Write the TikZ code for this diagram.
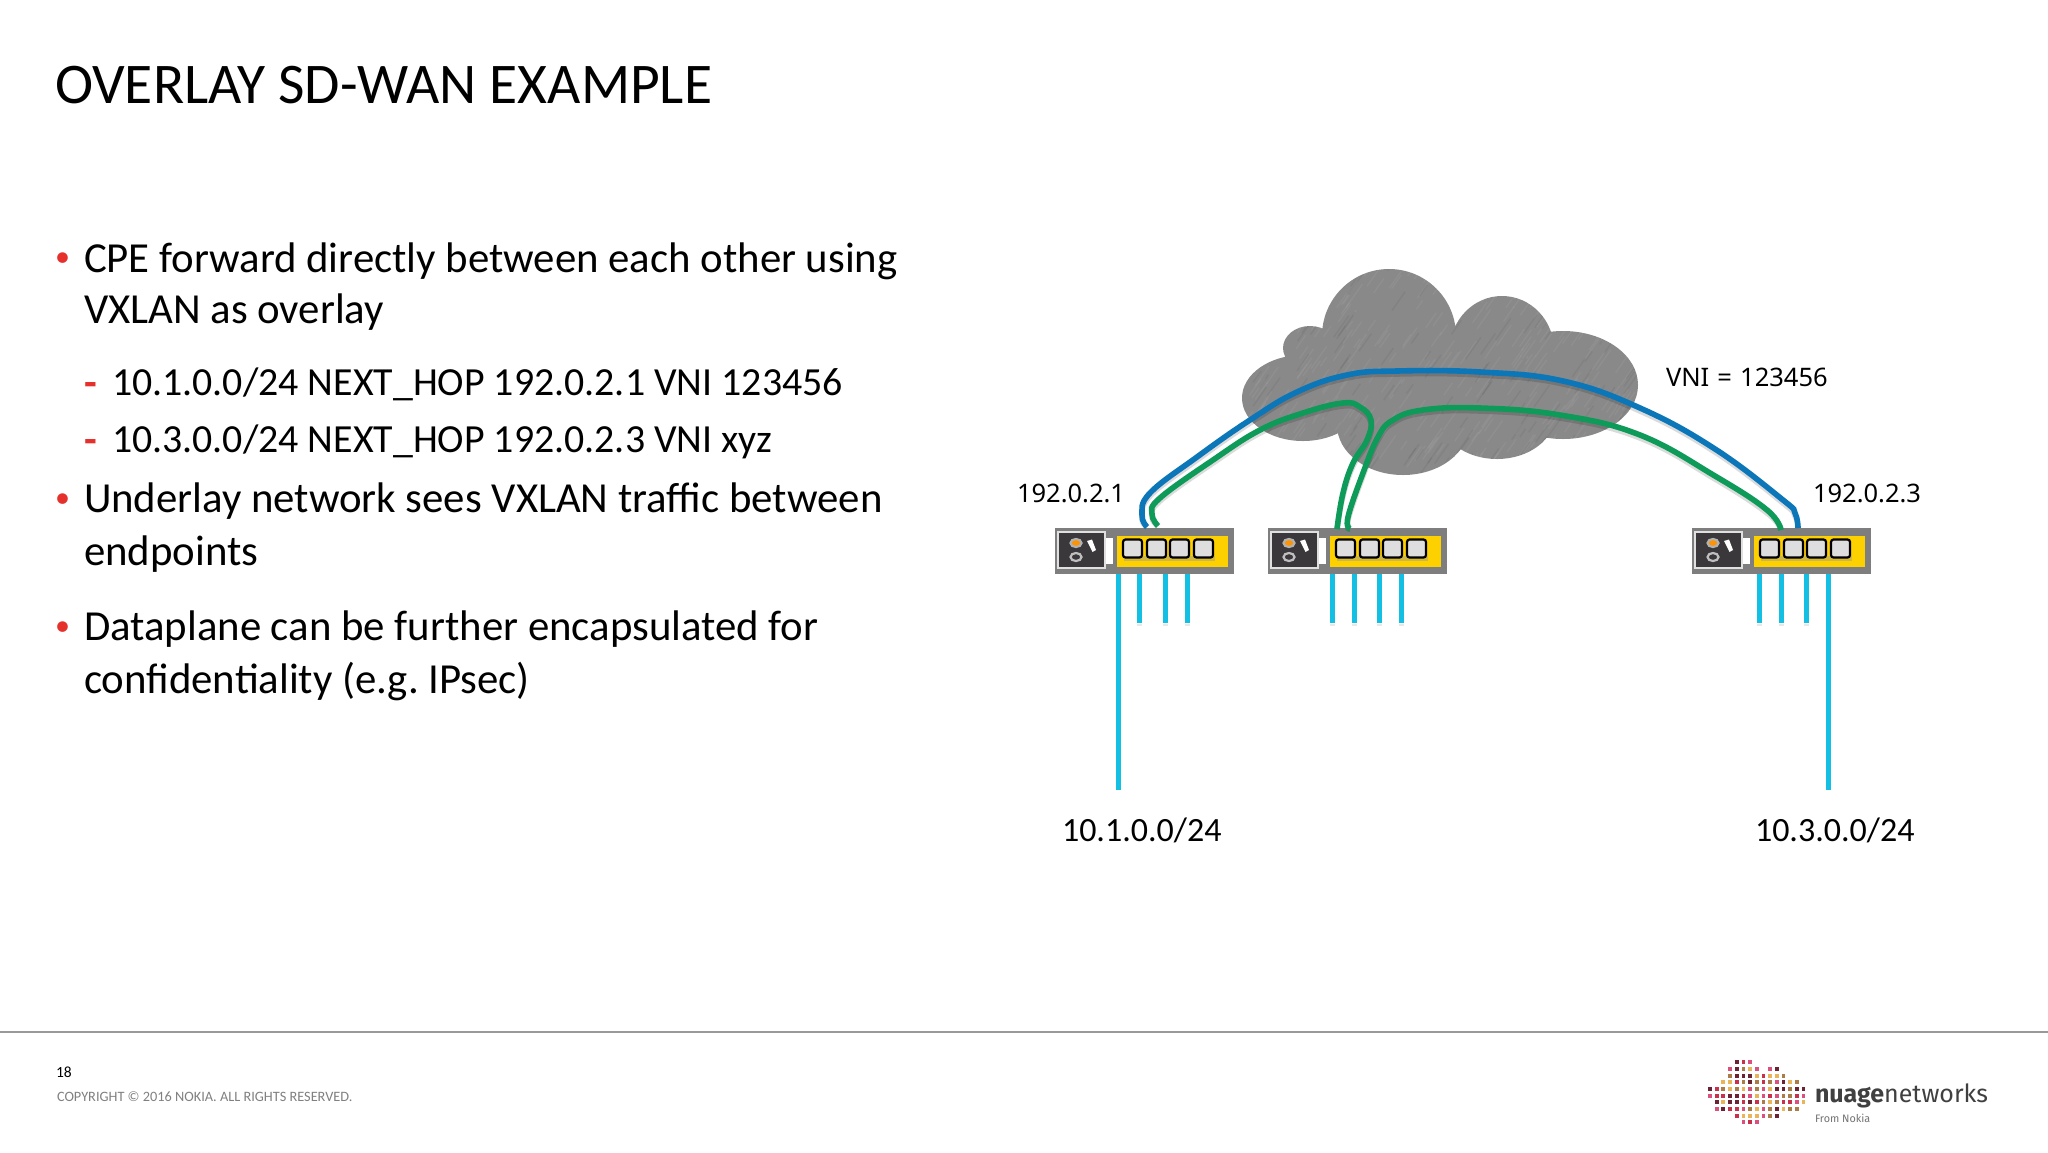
\documentclass[tikz,border=0pt]{standalone}
\usepackage{fontspec}
\setmainfont{Carlito}
\newfontfamily\labelfont{Noto Sans}
\newfontfamily\logofont{Fira Sans}
\definecolor{cloudgray}{HTML}{8A898A}
\definecolor{boxgray}{HTML}{7E7E7E}
\definecolor{panel}{HTML}{3A383A}
\definecolor{amber}{HTML}{FDD000}
\definecolor{vniblue}{HTML}{0B76B8}
\definecolor{vnigreen}{HTML}{0E9A58}
\definecolor{lan}{HTML}{14BFE4}
\definecolor{bullet}{HTML}{E5302C}
\definecolor{dotA}{HTML}{D9517C}
\definecolor{dotB}{HTML}{E9B45A}
\definecolor{dotC}{HTML}{6B2232}
\definecolor{dotD}{HTML}{AC7C48}
\definecolor{dotE}{HTML}{C9304C}
\tikzset{
  txt/.style={anchor=base west,inner sep=0pt,outer sep=0pt,text=black},
  titletxt/.style={txt,font=\fontsize{57.5}{66}\selectfont},
  bodytxt/.style={txt,font=\fontsize{42.8}{50}\selectfont},
  subtxt/.style={txt,font=\fontsize{39.85}{48}\selectfont},
  marktxt/.style={txt,text=bullet,font=\fontsize{30}{36}\selectfont},
  dashtxt/.style={txt,text=bullet,font=\fontsize{41.5}{50}\selectfont},
  addrtxt/.style={txt,font=\labelfont\fontsize{25.5}{28}\selectfont},
  nettxt/.style={txt,font=\fontsize{34}{42}\selectfont},
  lanline/.style={draw=lan,line width=5pt},
  lanshadow/.style={draw=black!25,line width=5pt,opacity=.35},
  vniline/.style={line width=5.6pt,smooth,tension=.7},
  vnishadow/.style={vniline,black,opacity=.14,yshift=-3pt},
  portbox/.style={draw=black,line width=2.2pt,rounded corners=2.5pt,fill=black!13},
}
\newcommand{\cpe}[2]{%
  \begin{scope}[shift={(#1,0)}]
    \fill[boxgray] (1055,528) rectangle (1234,574);
    \fill[panel] (1058,532) rectangle (1105,568);
    \draw[black!12,line width=2pt] (1058,532) rectangle (1105,568);
    \fill[white] (1106,538) rectangle (1113,564);
    \fill[amber] (1117,536) rectangle (1228,567);
    \draw[black!30,line width=2.2pt,fill=orange!85!yellow] (1076,543) ellipse [x radius=5.5,y radius=4];
    \draw[black!25,line width=2.2pt] (1076,557) ellipse [x radius=5.5,y radius=4];
    \fill[white] (1087,541) -- (1092,539.5) -- (1096,550) -- (1092.5,552) -- cycle;
    \fill[black!40,opacity=.45] (1124,556) rectangle (1215,561);
    \foreach \px in {1123,1147,1170,1194}
      \draw[portbox] (\px,539.5) rectangle ++(19,18);
    \foreach \lx in {#2} {
      \draw[lanshadow] (\lx,624) -- (\lx,626);
      \draw[lanline] (\lx,574) -- (\lx,623);
    }
  \end{scope}}
\begin{document}
\frenchspacing
\begin{tikzpicture}[x=1pt,y=-1pt]
\useasboundingbox (0,0) rectangle (2048,1152);
\fill[white] (0,0) rectangle (2048,1152);

% slide text
\node[titletxt] (title) at (55,103) {OVERLAY SD-WAN EXAMPLE};
\node[marktxt] (b1) at (55,266) {•};
\node[bodytxt] (t1) at (84,272) {CPE forward directly between each other using};
\node[bodytxt] (t1b) at (84,323) {VXLAN as overlay};
\node[dashtxt] (d1) at (84,396) {\textbf{-}};
\node[subtxt] (s1) at (112,395) {10.1.0.0/24 NEXT\_HOP 192.0.2.1 VNI 123456};
\node[dashtxt] (d2) at (84,453) {\textbf{-}};
\node[subtxt] (s2) at (112,452) {10.3.0.0/24 NEXT\_HOP 192.0.2.3 VNI xyz};
\node[marktxt] (b2) at (55,507) {•};
\node[bodytxt] (t2) at (84,512) {Underlay network sees VXLAN traffic between};
\node[bodytxt] (t2b) at (84,565) {endpoints};
\node[marktxt] (b3) at (55,635) {•};
\node[bodytxt] (t3) at (84,640) {Dataplane can be further encapsulated for};
\node[bodytxt] (t3b) at (84,693) {confidentiality (e.g. IPsec)};

% cloud
\newcommand{\cloudshape}{
  (1389,336) ellipse [x radius=67,y radius=67]
  (1502,350) ellipse [x radius=52,y radius=54]
  (1563,385) ellipse [x radius=75,y radius=54]
  (1310,348) ellipse [x radius=27,y radius=22]
  (1303,398) ellipse [x radius=61,y radius=43]
  (1403,425) ellipse [x radius=66,y radius=50]
  (1497,415) ellipse [x radius=58,y radius=44]
  (1440,390) ellipse [x radius=110,y radius=30]}
\fill[cloudgray] \cloudshape;
\begin{scope}
  \clip \cloudshape;
  \pgfmathsetseed{17}
  \foreach \i in {1,...,480} {
    \pgfmathsetmacro{\cx}{1240+rnd*405}
    \pgfmathsetmacro{\cy}{265+rnd*212}
    \pgfmathsetmacro{\len}{8+rnd*16}
    \pgfmathsetmacro{\shade}{rnd>.3 ? 100 : 0}
    \draw[white!\shade!black,opacity=.05,line width=1.4pt]
      (\cx,\cy) -- ++({\len*.7},{-\len});
  }
\end{scope}

% CPE devices
\cpe{0}{1118,1139,1165,1187}
\cpe{213}{1119,1141,1166,1188}
\cpe{637}{1122,1144,1169,1191}

% long LAN drops
\coordinate (drop1top) at (1118,574);
\coordinate (drop1end) at (1118,790);
\coordinate (drop3top) at (1828,574);
\coordinate (drop3end) at (1828,790);
\draw[lanline] (drop1top) -- (drop1end);
\draw[lanline] (drop3top) -- (drop3end);

% tunnel endpoints
\coordinate (blueA) at (1147,527);
\coordinate (blueC) at (1798,528);
\coordinate (greenA) at (1158,526);
\coordinate (greenB1) at (1337,529);
\coordinate (greenB2) at (1350,529);
\coordinate (greenC) at (1781,530);

\newcommand{\greenone}{plot coordinates {(greenA) (1152,514) (1160,498) (1213,460) (1260,430) (1303,413) (1343,403) (1360,407) (1371,420) (1367,440) (1353,463) (1343,493) (greenB1)}}
\newcommand{\greentwo}{plot coordinates {(greenB2) (1348,517) (1363,473) (1378,437) (1393,420) (1423,410) (1480,408) (1560,415) (1640,435) (1715,476) (1767,510) (greenC)}}
\newcommand{\bluepath}{plot coordinates {(blueA) (1142,515) (1150,493) (1197,457) (1250,420) (1297,392) (1347,375) (1397,371) (1480,372) (1563,381) (1640,408) (1715,449) (1783,500) (1795,513) (blueC)}}
\draw[vnishadow] \greenone;
\draw[vnishadow] \greentwo;
\draw[vnishadow] \bluepath;
\draw[vnigreen,vniline] \greenone;
\draw[vnigreen,vniline] \greentwo;
\draw[vniblue,vniline] \bluepath;

% labels
\node[addrtxt] (ip1) at (1017,502) {192.0.2.1};
\node[addrtxt] (ip3) at (1813,502) {192.0.2.3};
\node[addrtxt] (vnilabel) at (1666,386) {VNI\hspace{1.5pt} = \hspace{1.5pt}123456};
\node[nettxt] (net1) at (1062,841) {10.1.0.0/24};
\node[nettxt] (net3) at (1755,841) {10.3.0.0/24};

% footer
\coordinate (ruleL) at (0,1032);
\coordinate (ruleR) at (2048,1032);
\draw[black!40,line width=1.5pt] (ruleL) -- (ruleR);
\node[txt,font=\fontsize{15.5}{18}\selectfont] (page) at (56,1077) {18};
\node[txt,text=black!50,font=\fontsize{14.3}{16}\selectfont] (copy) at (57,1101) {COPYRIGHT © 2016 NOKIA. ALL RIGHTS RESERVED.};

% logo
\pgfmathsetseed{5}
\foreach \ry/\xs in {
  0/{3,4,5},
  1/{2,3,4,5,6,8,9},
  2/{2,3,4,5,6,7,8,9,10},
  3/{1,2,3,4,5,6,7,8,9,10,11,12},
  4/{-1,0,1,2,3,4,5,6,7,8,9,10,11,12,13},
  5/{-1,0,1,2,3,4,5,6,7,8,9,10,11,12,13},
  6/{0,1,2,3,4,5,6,7,8,9,10,11,12,13},
  7/{0,1,2,3,4,5,6,7,8,9,10,11,12},
  8/{3,4,5,6,7,8,9},
  9/{4,5,6}} {
  \foreach \rx in \xs {
    \pgfmathtruncatemacro{\pick}{int(rnd*5)}
    \ifcase\pick \def\dotc{dotA}\or \def\dotc{dotB}\or \def\dotc{dotC}\or \def\dotc{dotD}\else \def\dotc{dotE}\fi
    \fill[\dotc] ({1716.7+\rx*6.67-1.9},{1062.3+\ry*6.67-1.9}) rectangle ++(3.8,3.8);
  }
}
\node[txt,text=black!75,font=\logofont\fontsize{25}{30}\selectfont] (logo) at (1815,1102) {\textbf{nuage}networks};
\node[txt,text=black!55,font=\logofont\fontsize{10.8}{14}\selectfont] (nokia) at (1815,1122) {From Nokia};
\end{tikzpicture}
\end{document}
